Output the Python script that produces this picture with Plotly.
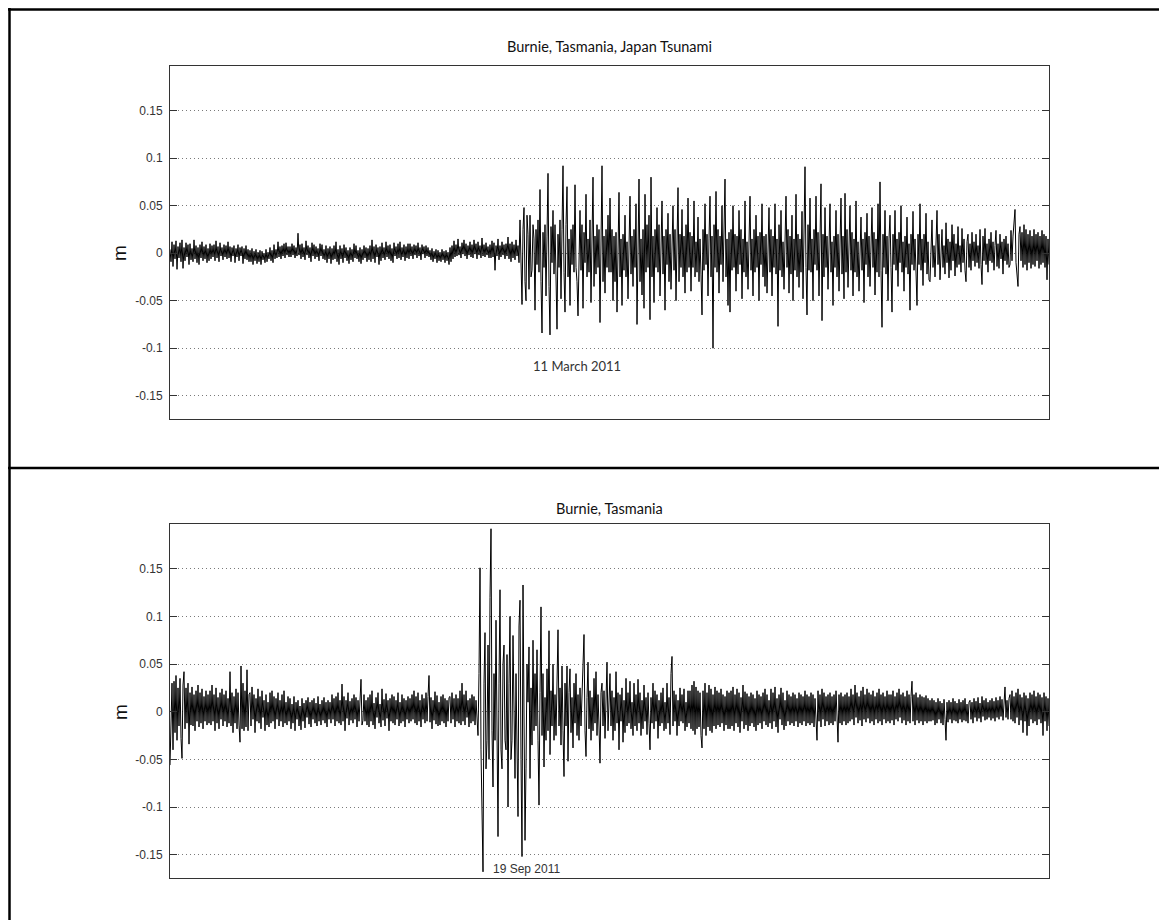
import plotly.graph_objects as go

# Sea-level residuals (millimetres), about one value per pixel column
top_mm = [
    4, -9, 12, -14, 9, -6, 13, -17, 7, -5, 11, -9, 14, -16, 6, -8, 11, -4, 9, -12, 10, -7, 5, -9, 14, -6, 8, -10, 6, -12, 9, -5, 12, -8, 7, -6, 9, -10, 5, -8,
    10, -6, 8, -4, 9, -8, 13, -5, 7, -9, 11, -3, 6, -7, 9, -4, 8, -6, 12, -5, 7, -9, 6, -3, 8, -10, 5, -4, 9, -8, 6, -3, 7, -11, 5, -6, 8, -7, 4, -9,
    3, -9, 5, -12, 2, -8, 4, -11, 1, -9, 3, -12, 2, -7, 0, -10, 4, -9, 1, -6, 6, -8, 3, -10, 9, -6, 4, -5, 12, -4, 7, -6, 8, -3, 10, -5, 11, -2, 7, -4,
    7, -4, 10, -2, 8, -5, 6, -3, 21, -2, 9, -6, 10, -4, 6, -7, 13, -2, 8, -5, 6, -9, 11, -3, 9, -6, 7, -4, 5, -8, 10, -3, 9, -6, 4, -7, 8, -10, 5, -6,
    7, -11, 5, -7, 8, -6, 12, -9, 4, -12, 8, -6, 5, -10, 9, -5, 6, -8, 3, -11, 6, -7, 4, -9, 10, -5, 8, -6, 3, -9, 6, -11, 4, -7, 8, -5, 6, -9, 5, -7,
    8, -9, 14, -6, 7, -10, 9, -4, 6, -12, 7, -8, 11, -5, 6, -7, 12, -4, 8, -6, 9, -8, 5, -10, 11, -3, 7, -6, 10, -5, 12, -7, 6, -4, 9, -8, 7, -5, 10, -6,
    10, -3, 7, -6, 9, -2, 8, -5, 11, -3, 6, -7, 9, -1, 7, -5, 8, -3, 6, -4, 3, -7, 5, -9, 2, -6, 4, -10, 3, -8, 1, -9, 4, -7, 2, -10, 3, -8, 1, -12,
    6, -9, 8, -6, 13, -4, 9, -3, 15, -2, 7, -5, 11, -1, 14, -3, 10, -6, 8, -2, 12, -4, 9, -5, 14, -1, 10, -6, 12, -2, 8, -5, 16, -3, 9, -4, 11, -2, 7, -5,
    9, -5, 13, -4, 11, -18, 8, -3, 15, -7, 8, -4, 12, -2, 9, -6, 10, -3, 17, -6, 10, -9, 12, -5, 9, -7, 14, -3, 8, -10, 35, -20, -54, 25, 48, -30, -50, 40, 20, -38,
    40, -25, -18, 30, 15, -60, 25, -12, 35, -20, 67, -30, -84, 22, -15, 30, -45, 18, 84, -35, -86, 28, -10, 45, -22, 30, -18, -80, 20, -15, 35, -48, 25, 92, -20, -62, 30, 70, -25, 15,
    -55, 25, -12, 30, -20, 72, -15, -30, -66, 20, 45, -18, 30, -58, 22, -10, 62, -25, 15, -20, 35, -52, 20, 80, -35, 18, -22, 30, -15, 25, -73, 20, 92, -30, 18, -42, 25, -15, 40, -20,
    58, -20, 25, -50, 18, -30, 22, -62, 30, 64, -25, 15, -55, 20, -18, 40, -25, 12, -48, 30, 60, -22, 18, -35, 25, -15, 52, -75, 20, 78, -30, 15, -44, 25, -58, 62, -20, 30, -15, 40,
    -70, 80, -25, 18, -52, 25, -15, 48, -20, 30, -45, 15, 55, -22, 18, -60, 25, -12, 42, -30, 20, -38, 15, 50, -18, 25, -50, 12, 69, -30, 20, -15, 46, -25, 18, -42, 30, -20, 58, -15,
    22, -40, 18, -15, 55, -25, 12, -20, 38, -30, 15, -22, -65, 25, -18, 52, -12, 20, -45, 15, 60, -25, 18, -100, 30, -15, 65, -20, 25, -42, 18, -12, 50, -30, 20, 78, -25, 15, -55, 22,
    -62, 25, -18, 50, -15, 20, -40, 18, -22, 45, -12, 25, -48, 15, -20, 55, -25, 12, -38, 22, 60, -18, 15, -45, 25, -20, 40, -15, 18, -50, 22, -12, 52, -25, 18, -35, 20, -42, 15, 48,
    -20, 25, -45, 18, -15, 52, -22, 15, -77, 30, -18, 45, -25, 12, -38, 20, 60, -15, 25, -42, 18, -22, 40, -50, 15, -18, 62, -25, 20, -36, 15, -20, 44, -48, 22, 91, -15, -65, 30, -18,
    58, -20, 15, -50, 25, -12, 60, -18, 22, -45, 15, 73, -71, 20, -25, 48, -15, 18, -38, 25, 52, -20, 12, -55, 18, -15, 45, -25, 20, -40, 15, 58, -22, 18, -48, 63, -20, 25, -36, 15,
    50, -18, 22, -45, 15, -20, 55, -25, 12, -40, 20, 38, -18, 15, -52, 22, -12, 42, -25, 18, -35, 20, 48, -15, 22, -44, 15, -20, 52, -25, 75, -18, -78, 20, -15, 45, -22, 18, -50, 15,
    40, -15, -62, 20, -12, 45, -18, 15, -35, 22, -10, 50, -20, 12, -40, 18, -15, 38, -22, 10, -60, 20, -12, 44, -18, 15, -30, -55, 20, -12, 52, -18, 15, -34, 20, -10, 42, -22, 12, -28,
    -30, 12, 35, -15, 8, -25, 15, 45, -12, 20, -28, 10, 25, -15, 8, -22, 32, -10, 15, -26, 12, -18, 30, -8, 20, -24, 10, -15, 28, -12, 8, -20, 26, -10, 15, -18, -30, 12, 20, -15,
    10, -18, 22, -8, 12, -14, 20, -10, 8, -16, 25, -12, -33, 18, -8, 26, -12, 10, -20, 15, -8, 22, -10, 12, -18, 8, 24, -14, 10, -16, 20, -6, 12, -22, 15, -8, 18, -12, 10, -15,
    -12, 24, -8, 18, 30, 46, -10, -20, -35, 20, 28, -8, 22, -15, 30, -12, 25, -18, 20, -10, 24, -16, 18, -12, 25, -14, 20, -8, 22, -16, 18, -12, 24, -10, 20, -15, 18, -28, 15, -12,
]

bottom_mm = [
    -56, -20, 30, -40, 32, -22, 38, -30, 25, -15, 35, -28, -49, 28, 42, -18, 25, -12, 30, -34, 20, -14, 26, -15, 18, -20, 22, -10, 28, -16, 20, -12, 24, -18, 16, -10, 22, -14, 18, -12,
    22, -14, 28, -10, 18, -20, 25, -12, 15, -18, 20, -8, 24, -15, 18, -10, 22, -16, 14, -12, 42, -15, 20, -22, 16, -12, 24, -18, 20, -14, -32, 48, -18, 30, -20, 22, -16, 44, -20, 18,
    20, -15, 26, -8, 18, -22, 14, -10, 24, -12, 16, -18, 22, -6, 12, -20, 18, -14, 10, -16, 20, -12, 22, -10, 16, -18, 14, -8, 20, -15, 12, -10, 18, -16, 22, -12, 10, -14, 16, -10,
    14, -18, 8, -12, 16, -20, 10, -8, 12, -15, 6, -19, 14, -10, 9, -17, 12, -6, 15, -13, 10, -16, 12, -8, 14, -12, 9, -15, 16, -10, 8, -14, 12, -9, 15, -12, 10, -16, 12, -8,
    10, -12, 18, -8, 14, -15, 16, -10, 20, -12, 12, -14, 29, -10, 16, -20, 12, -7, 20, -14, 11, -9, 14, -12, 18, -8, 15, -16, 12, -10, 16, 34, -14, -9, 18, -10, 12, -14, 15, -16,
    18, -10, 22, -14, 9, -18, 15, -6, 20, -12, 8, -16, 24, -9, 13, -15, 19, -7, 12, -20, 14, -10, 18, -12, 16, -14, 12, -8, 20, -15, 10, -12, 18, -10, 14, -16, 12, -8, 16, -12,
    14, -10, 18, -8, 22, -12, 16, -14, 20, -10, 12, -16, 18, -8, 14, -12, 20, -10, 16, 38, -11, 15, -18, 12, -9, 21, -13, 17, -15, 10, -14, 16, -10, 18, -12, 14, -16, 12, -10, 15,
    16, -12, 20, -8, 14, -16, 18, -10, 14, -12, 22, -14, 30, -10, 18, -14, 22, -6, 12, -16, 14, -12, 18, -10, 16, -14, 12, -8, -25, 40, 151, -40, -100, -168, 30, 83, -60, -30, 70, -50,
    120, 192, -20, -79, 40, -30, 96, -60, -131, 30, 128, -40, -60, 50, 70, -30, -40, 60, -100, 30, 100, -50, -30, 80, -20, -70, 40, -60, -110, 90, 117, -50, -152, 133, -40, -135, -60, 50, 10, 68,
    -70, 25, -35, 75, -20, 40, -15, 65, -30, -98, 20, 110, -25, 40, -58, 15, -30, 45, -20, 85, -45, 22, -15, 50, -30, 18, -25, 40, 86, -15, 25, -35, 48, -20, -68, 30, -15, 48, -52, 20,
    45, -22, 15, -38, 30, -12, 40, -25, 18, -30, 25, -15, 20, 60, 81, -20, -47, 15, 52, -18, 22, -30, 15, -20, 35, -12, 42, -25, 18, -15, -54, 20, 30, -15, 22, -28, 12, 52, -20, 15,
    40, -15, 22, -30, 15, -20, 42, -12, 20, -40, 18, -10, 25, -32, 12, -22, 35, -15, 20, -12, 32, -18, 10, -25, 30, -15, 18, -20, 34, -12, 20, -25, 12, -18, 28, -10, 15, -24, 20, -12,
    -40, 15, -12, 30, -18, 22, -10, 18, -28, 12, -15, 20, -12, 25, -20, 10, -18, 30, -12, 15, -24, 40, 58, -15, 22, -10, 18, -25, 12, -15, 25, -10, 18, -12, 24, -20, 10, -16, 22, -12,
    22, -18, 28, -20, 32, -24, 26, -18, 22, -16, 20, -25, -38, 22, -18, 30, -25, 20, -16, 28, -20, 24, -22, 18, -15, 26, -18, 22, -14, 20, -16, 24, -12, 18, -20, 16, -14, 22, -18, 20,
    -18, 22, -15, 26, -20, 18, -12, 24, -16, 20, -22, 15, -10, 28, -18, 21, -14, 19, -20, 16, -15, 20, -12, 18, -16, 14, -20, 22, -14, 18, -12, 16, -18, 20, -10, 24, -14, 18, -16, 12,
    -12, 24, -18, 20, -10, 26, -16, 14, -22, 18, -8, 25, -14, 20, -19, 12, -15, 22, -10, 18, -14, 16, -12, 20, -15, 18, -10, 14, -16, 20, -12, 18, -14, 16, -10, 22, -15, 18, -12, 16,
    -14, 20, -12, 18, -16, 14, -10, -30, 22, -10, 18, -16, 24, -8, 20, -15, 16, -10, 18, -14, 20, -12, 16, -14, 18, -10, 22, -15, -32, 18, -12, 20, -14, 16, -10, 18, -14, 20, -12, 16,
    -10, 24, -8, 18, -14, 28, -6, 20, -12, 16, -9, 22, -15, 26, -8, 18, -11, 24, -7, 20, -12, 18, -10, 22, -14, 16, -8, 20, -12, 24, -10, 18, -14, 20, -8, 16, -12, 22, -10, 18,
    -12, 18, -9, 22, -14, 16, -8, 20, -10, 24, -6, 18, -12, 20, -9, 16, -14, 22, -10, 18, -12, 16, 32, -10, 18, -14, 20, -9, 15, -12, 18, -10, 16, -14, 15, -10, 17, -12, 14, -10,
    12, -10, 14, -9, 12, -14, 10, -12, 14, -8, 11, -12, 9, -14, 13, -8, -30, 10, -11, 12, -8, 10, -12, 14, -9, 11, -10, 9, -12, 13, -8, 10, -11, 12, -9, 14, -10, 8, -12, 10,
    12, -8, 10, -12, 14, -6, 11, -10, 15, -7, 9, -11, 16, -5, 12, -9, 14, -8, 10, -6, 12, -9, 14, -7, 11, -10, 15, -6, 12, -8, 16, -5, 13, -9, 14, 26, -6, 12, -8, 14,
    18, -8, 22, -10, 16, -12, 20, -6, 24, -14, 18, -9, 15, -22, 20, -10, 17, -25, 14, -15, 20, -8, 18, -12, 22, -10, 16, -14, 20, -8, 18, -12, 15, -25, 20, -10, 16, -20, 14, -15,
]

titles = ["Burnie, Tasmania, Japan Tsunami", "Burnie, Tasmania"]
event_labels = ["11 March 2011", "19 Sep 2011"]
y_label = "m"
tick_vals = [-0.15, -0.1, -0.05, 0, 0.05, 0.1, 0.15]
tick_text = ["-0.15", "-0.1", "-0.05", "0", "0.05", "0.1", "0.15"]

# the page body adds an 8 px margin, so the figure is 8 px smaller and shifted
OFF = 8
W, H = 1167 - OFF, 920 - OFF


def px(x):
    return (x - OFF) / W


def py(y):
    return 1 - (y - OFF) / H


fig = go.Figure()

series = [top_mm, bottom_mm]
for k, s in enumerate(series):
    n = "" if k == 0 else "2"
    fig.add_trace(go.Scatter(
        x=list(range(len(s))), y=[v / 1000 for v in s],
        mode="lines", line=dict(color="#000000", width=1),
        xaxis="x" + n, yaxis="y" + n, showlegend=False, hoverinfo="skip",
    ))

plot_x = [px(170), px(1049)]
doms = [[py(419), py(66)], [py(878), py(524)]]
yr = [-0.1745, 0.197]

layout = dict(
    width=W, height=H, margin=dict(l=0, r=0, t=0, b=0),
    paper_bgcolor="white", plot_bgcolor="white", showlegend=False,
)
for k in range(2):
    n = "" if k == 0 else "2"
    layout["xaxis" + n] = dict(
        domain=plot_x, range=[0, len(series[k]) - 1], anchor="y" + n,
        showgrid=False, zeroline=False, showticklabels=False, ticks="",
        showline=True, mirror=True, linecolor="#333333", linewidth=1,
    )
    layout["yaxis" + n] = dict(
        domain=doms[k], range=yr, anchor="x" + n,
        tickvals=tick_vals, ticktext=tick_text,
        ticks="inside", ticklen=7, tickcolor="#333333", tickwidth=1,
        showgrid=True, gridcolor="#7a7a7a", gridwidth=1, griddash="1px,3px",
        zeroline=False, showline=True, mirror="ticks", linecolor="#333333",
        linewidth=1, tickfont=dict(family="Arial, Liberation Sans", size=12, color="#333333"),
        ticklabelstandoff=4,
    )
fig.update_layout(**layout)

# outer table frame
frame = dict(type="line", xref="paper", yref="paper", line=dict(color="black", width=2.5))
fig.add_shape(x0=px(8), x1=1, y0=py(9.5), y1=py(9.5), **frame)
fig.add_shape(x0=px(8), x1=1, y0=py(468), y1=py(468), **frame)
fig.add_shape(x0=px(9.5), x1=px(9.5), y0=py(8), y1=0, **frame)

title_y = [47, 508]
label_mid = [253, 712]
for k in range(2):
    fig.add_annotation(
        x=px(609.5), y=py(title_y[k]), xref="paper", yref="paper",
        text=titles[k], showarrow=False, xanchor="center", yanchor="middle",
        font=dict(family="Lato, Open Sans", size=14.5, color="#111111"),
    )
    fig.add_annotation(
        x=px(120), y=py(label_mid[k]), xref="paper", yref="paper",
        text=y_label, showarrow=False, textangle=-90, xanchor="center", yanchor="middle",
        font=dict(family="Arial, Liberation Sans", size=19, color="#111111"),
    )

fig.add_annotation(
    x=px(577), y=py(366), xref="paper", yref="paper", text=event_labels[0],
    showarrow=False, xanchor="center", yanchor="middle",
    font=dict(family="Lato, Open Sans", size=13, color="#333333"),
)
fig.add_annotation(
    x=px(526), y=py(869), xref="paper", yref="paper", text=event_labels[1],
    showarrow=False, xanchor="center", yanchor="middle",
    font=dict(family="Arial, Liberation Sans", size=12, color="#333333"),
)

fig.write_html("out.html")
